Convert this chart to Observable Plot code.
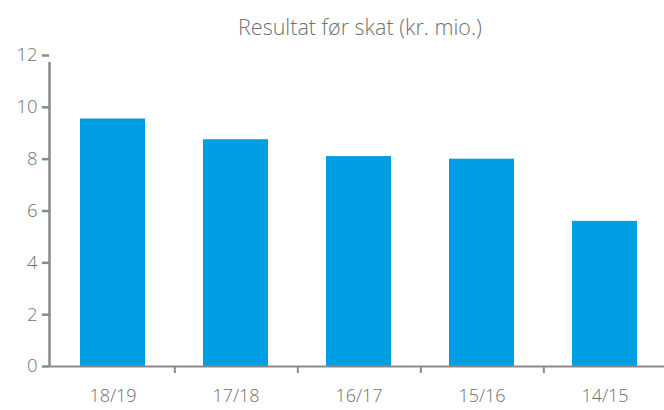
<!DOCTYPE html>
<html>
<head>
<meta charset="utf-8">
<script src="https://cdn.jsdelivr.net/npm/d3@7"></script>
<script src="https://cdn.jsdelivr.net/npm/@observablehq/plot@0.6"></script>
<style>
  html, body { margin: 0; padding: 0; background: #fff; }
  #chart svg { display: block; }
</style>
</head>
<body>
<div id="chart"></div>
<script>
const title = "Resultat før skat (kr. mio.)";
const categories = ["18/19", "17/18", "16/17", "15/16", "14/15"];
const values = [9.55, 8.75, 8.1, 8.0, 5.6];
const yTicks = [0, 2, 4, 6, 8, 10, 12];

const data = categories.map((c, i) => ({ period: c, value: values[i] }));

const gray = "#707070";
const axisGray = "#8a8a8a";
const W = 664, H = 410;
const mL = 49, mR = 0, mT = 55, mB = 44;
const step = 123.7;

const plot = Plot.plot({
  width: W,
  height: H,
  marginLeft: mL,
  marginRight: mR,
  marginTop: mT,
  marginBottom: mB,
  style: { fontFamily: "'Open Sans', Lato, sans-serif", fontWeight: 300, fontSize: "18px", color: gray, background: "#fff" },
  x: { domain: categories, range: [19.2, 696.4], padding: 0.475, label: null },
  y: { domain: [0, 12], label: null },
  marks: [
    Plot.barY(data, { x: "period", y: "value", fill: "#009FE3" }),
    Plot.ruleY([0], { stroke: axisGray, strokeWidth: 2 }),
    Plot.ruleX([0], { x: null, y1: 0, y2: 12, dx: -(W - mL - mR) / 2, insetBottom: -7, stroke: axisGray, strokeWidth: 2.5 }),
    Plot.ruleX(categories.slice(0, -1), { x: d => d, y1: 0, y2: 0, dx: step / 2, insetTop: 7, stroke: axisGray, strokeWidth: 2 }),
    Plot.axisY(yTicks, { tickSize: 7, tickPadding: 5, stroke: axisGray, strokeWidth: 2.5, fill: gray, fontSize: 18.5, fontWeight: 300, label: null }),
    Plot.axisX({ tickSize: 0, tickPadding: 23, fill: gray, fontSize: 18, fontWeight: 300, label: null }),
    Plot.text([title], { frameAnchor: "top", dy: -27, dx: 3, fill: gray, fontSize: 21.5, fontWeight: 300, textAnchor: "middle", lineAnchor: "middle" })
  ]
});
document.getElementById("chart").appendChild(plot);
</script>
</body>
</html>
